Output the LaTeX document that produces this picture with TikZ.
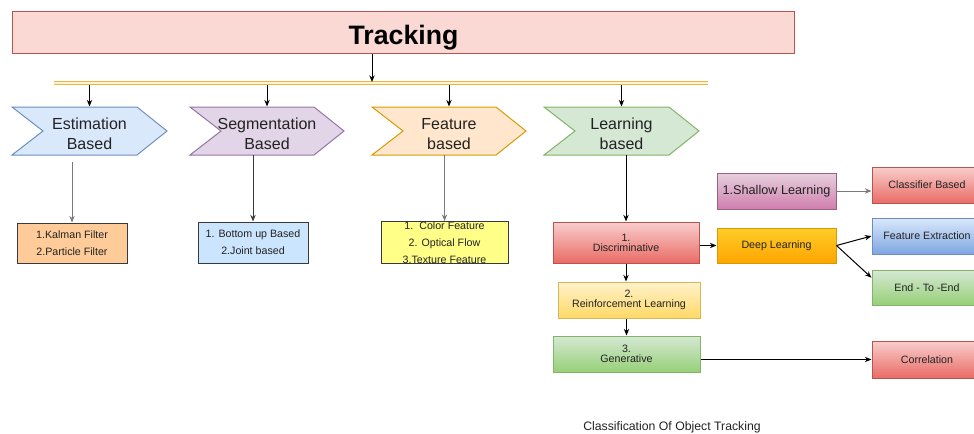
\documentclass[tikz,border=0pt]{standalone}
\usepackage{fontspec}
\setmainfont{Liberation Sans}
\usetikzlibrary{arrows.meta}

\definecolor{trkfill}{HTML}{FAD9D5}
\definecolor{redline}{HTML}{B85450}
\definecolor{redtop}{HTML}{F8CECC}
\definecolor{redbot}{HTML}{EA6B66}
\definecolor{barcol}{HTML}{E8B84A}
\definecolor{barin}{HTML}{FFF2CC}
\definecolor{bluefill}{HTML}{DAE8FC}
\definecolor{blueline}{HTML}{6C8EBF}
\definecolor{bluebot}{HTML}{7EA6E0}
\definecolor{purpfill}{HTML}{E1D5E7}
\definecolor{purpline}{HTML}{9673A6}
\definecolor{orfill}{HTML}{FFE6CC}
\definecolor{orline}{HTML}{D79B00}
\definecolor{grfill}{HTML}{D5E8D4}
\definecolor{grline}{HTML}{82B366}
\definecolor{grbot}{HTML}{97D077}
\definecolor{boxline}{HTML}{36393D}
\definecolor{peach}{HTML}{FFCC99}
\definecolor{skyfill}{HTML}{CCE5FF}
\definecolor{lemon}{HTML}{FFFF88}
\definecolor{pinktop}{HTML}{E6D0DE}
\definecolor{pinkbot}{HTML}{D07FAE}
\definecolor{pinkline}{HTML}{996185}
\definecolor{goldtop}{HTML}{FFCD28}
\definecolor{goldbot}{HTML}{FFA500}
\definecolor{yeltop}{HTML}{FFF2CC}
\definecolor{yelbot}{HTML}{FFD966}
\definecolor{yelline}{HTML}{D6B656}
\definecolor{txt}{HTML}{222222}
\definecolor{greyarr}{HTML}{7A7A7A}

\tikzset{every picture/.style={line width=0.75pt}}
\tikzset{
  chevtext/.style={minimum width=116pt, minimum height=40.5pt, inner sep=0pt, align=center, text=txt, font=\fontsize{12}{15}\selectfont},
  listbox/.style={draw=boxline, align=center, inner sep=0pt, text=txt, font=\fontsize{8}{13}\selectfont},
  gradbox/.style={align=center, inner sep=0pt, text=txt, font=\fontsize{8}{7.5}\selectfont},
  arr/.style={-{Stealth[length=5pt,width=4pt]}, line width=0.75pt},
}

\begin{document}
\begin{tikzpicture}[x=0.75pt,y=0.75pt,yscale=-1,xscale=1]
	\useasboundingbox (0,0) rectangle (974,433);

	%Shape: Rectangle [Tracking]
	\node [draw=redline, fill=trkfill, minimum width=587pt, minimum height=31.5pt, inner sep=0pt, text height=22pt, text depth=4pt, font=\fontsize{20}{24}\selectfont\bfseries] (track) at (403.5,32) {Tracking};
	%Straight Lines [bar]
	\coordinate (barL) at (54,83);
	\coordinate (barR) at (708,83);
	\coordinate (barT) at (372,82);
	\draw [barcol, double=barin, line width=1pt, double distance=1pt] (barL) -- (barR);
	\draw [arr] (track.south -| barT) -- (barT);

	%Shape: Chevrons
	\draw [draw=blueline, fill=bluefill] (12,107) -- (137,107) -- (167,131) -- (137,155) -- (12,155) -- (43,131) -- cycle;
	\draw [draw=purpline, fill=purpfill] (190,107) -- (314,107) -- (344,131) -- (314,155) -- (190,155) -- (221,131) -- cycle;
	\draw [draw=orline, fill=orfill] (372,107) -- (496,107) -- (526,131) -- (496,155) -- (372,155) -- (403,131) -- cycle;
	\draw [draw=grline, fill=grfill] (544,107) -- (669,107) -- (699,131) -- (669,155) -- (544,155) -- (575,131) -- cycle;

	% Text Node
	\node [chevtext] (est) at (89.5,134) {Estimation\\Based};
	% Text Node
	\node [chevtext] (seg) at (267,134) {Segmentation\\Based};
	% Text Node
	\node [chevtext] (feat) at (449,134) {Feature\\based};
	% Text Node
	\node [chevtext] (learn) at (621.5,134) {Learning\\based};

	\draw [arr] (est.north |- 0,85) -- (est.north);
	\draw [arr] (seg.north |- 0,85) -- (seg.north);
	\draw [arr] (feat.north |- 0,85) -- (feat.north);
	\draw [arr] (learn.north |- 0,85) -- (learn.north);

	%Shape: Rectangle [lists]
	\node [listbox, fill=peach, minimum width=82.5pt, minimum height=30pt] (kal) at (72,243) {1.Kalman Filter\\2.Particle Filter};
	\node [listbox, fill=skyfill, minimum width=82.5pt, minimum height=30.75pt] (bott) at (253,242.5) {1. Bottom up Based\\2.Joint based};
	\node [listbox, fill=lemon, minimum width=95.25pt, minimum height=30.75pt, font=\fontsize{8}{12.75}\selectfont] (colr) at (444.5,242.5) {1.\ \ Color Feature\\2. Optical Flow\\3.Texture Feature};

	\draw [arr, greyarr] (est.south -| kal.north) -- (kal.north);
	\draw [arr, boxline] (bott.north |- 0,155) -- (bott.north);
	\draw [arr, greyarr] (colr.north |- 0,155) -- (colr.north);

	%Shape: Rectangle [learning]
	\node [gradbox, draw=redline, top color=redtop, bottom color=redbot, minimum width=109.5pt, minimum height=30.75pt] (disc) at (626,242.5) {1.\\Discriminative};
	\node [gradbox, draw=pinkline, top color=pinktop, bottom color=pinkbot, minimum width=89.25pt, minimum height=27pt, font=\fontsize{9.5}{11}\selectfont] (shal) at (776.5,191) {1.Shallow Learning};
	\node [gradbox, draw=orline, top color=goldtop, bottom color=goldbot, minimum width=89.25pt, minimum height=26.25pt] (deep) at (776.5,245.5) {Deep Learning};
	\node [gradbox, draw=redline, top color=redtop, bottom color=redbot, minimum width=82.5pt, minimum height=27pt] (clas) at (927,185) {Classifier Based};
	\node [gradbox, draw=blueline, top color=bluefill, bottom color=bluebot, minimum width=82.5pt, minimum height=27pt] (fext) at (927,236) {Feature Extraction};
	\node [gradbox, draw=grline, top color=grfill, bottom color=grbot, minimum width=82.5pt, minimum height=26.25pt] (end) at (927,287.5) {End - To -End};
	\node [gradbox, draw=yelline, top color=yeltop, bottom color=yelbot, minimum width=106.5pt, minimum height=27pt] (reinf) at (629,300) {2.\\Reinforcement Learning};
	\node [gradbox, draw=grline, top color=grfill, bottom color=grbot, minimum width=110.25pt, minimum height=27pt] (gen) at (626.5,354) {3.\\Generative};
	\node [gradbox, draw=redline, top color=redtop, bottom color=redbot, minimum width=82.5pt, minimum height=27.75pt] (corr) at (927,359.5) {Correlation};

	\draw [arr] (disc.north |- 0,155) -- (disc.north);
	\draw [arr, greyarr] (shal.east) -- (shal.east -| clas.west);
	\draw [arr] (deep.west -| disc.east) -- (deep.west);
	\draw [arr] (deep.east) -- (fext.west);
	\draw [arr] (deep.east) -- (end.170);
	\draw [arr] (disc.south) -- (disc.south |- reinf.north);
	\draw [arr] (reinf.south -| gen.north) -- (gen.north);
	\draw [arr] (gen.east |- corr.west) -- (corr.west);

	% Text Node
	\node [text=txt, font=\fontsize{9.2}{10}\selectfont] (cap) at (672,427) {Classification Of Object Tracking};

\end{tikzpicture}
\end{document}
